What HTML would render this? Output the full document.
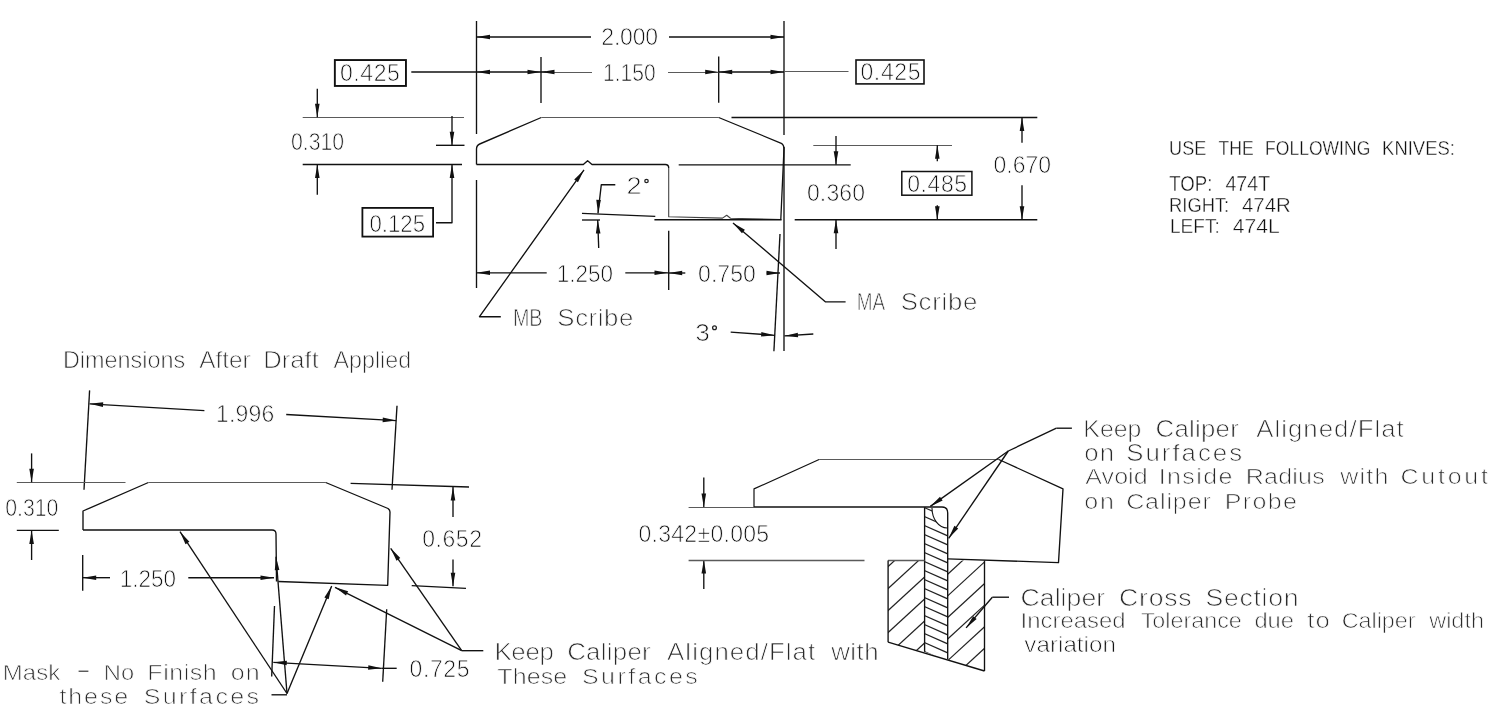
<!DOCTYPE html>
<html><head><meta charset="utf-8"><style>
html,body{margin:0;padding:0;background:#fff;}
svg{display:block;will-change:transform;}
</style></head><body>
<svg width="1500" height="714" viewBox="0 0 1500 714">
<rect width="1500" height="714" fill="#fff"/>
<defs><clipPath id="cl"><path d="M888.1,560.5 L924.6,560.5 L924.6,653 L888.1,642.2Z"/></clipPath>
<clipPath id="cm"><path d="M924.6,507 L932,507 A15.2,20 0 0 0 947.2,528 L947.7,528 L947.7,659 L924.6,652Z"/></clipPath>
<clipPath id="cr"><path d="M947.7,560.5 L984.5,560.5 L984.5,671 L947.7,659.5Z"/></clipPath></defs>
<g clip-path="url(#cl)" stroke="#222" stroke-width="1.2"><line x1="880" y1="508.03" x2="930" y2="462.03" /><line x1="880" y1="530.03" x2="930" y2="484.03" /><line x1="880" y1="552.03" x2="930" y2="506.03" /><line x1="880" y1="574.03" x2="930" y2="528.03" /><line x1="880" y1="596.03" x2="930" y2="550.03" /><line x1="880" y1="618.03" x2="930" y2="572.03" /><line x1="880" y1="640.03" x2="930" y2="594.03" /><line x1="880" y1="662.03" x2="930" y2="616.03" /><line x1="880" y1="684.03" x2="930" y2="638.03" /><line x1="880" y1="706.03" x2="930" y2="660.03" /><line x1="880" y1="728.03" x2="930" y2="682.03" /></g>
<g clip-path="url(#cr)" stroke="#222" stroke-width="1.2"><line x1="940" y1="494.92" x2="990" y2="448.92" /><line x1="940" y1="516.52" x2="990" y2="470.52" /><line x1="940" y1="538.12" x2="990" y2="492.12" /><line x1="940" y1="559.72" x2="990" y2="513.72" /><line x1="940" y1="581.32" x2="990" y2="535.32" /><line x1="940" y1="602.92" x2="990" y2="556.92" /><line x1="940" y1="624.52" x2="990" y2="578.52" /><line x1="940" y1="646.12" x2="990" y2="600.12" /><line x1="940" y1="667.72" x2="990" y2="621.72" /><line x1="940" y1="689.32" x2="990" y2="643.32" /><line x1="940" y1="710.92" x2="990" y2="664.92" /><line x1="940" y1="732.52" x2="990" y2="686.52" /></g>
<g clip-path="url(#cm)" stroke="#222" stroke-width="1.2"><line x1="920" y1="478.68" x2="950" y2="491.88" /><line x1="920" y1="487.68" x2="950" y2="500.88" /><line x1="920" y1="496.68" x2="950" y2="509.88" /><line x1="920" y1="505.68" x2="950" y2="518.88" /><line x1="920" y1="514.68" x2="950" y2="527.88" /><line x1="920" y1="523.68" x2="950" y2="536.88" /><line x1="920" y1="532.68" x2="950" y2="545.88" /><line x1="920" y1="541.68" x2="950" y2="554.88" /><line x1="920" y1="550.68" x2="950" y2="563.88" /><line x1="920" y1="559.68" x2="950" y2="572.88" /><line x1="920" y1="568.68" x2="950" y2="581.88" /><line x1="920" y1="577.68" x2="950" y2="590.88" /><line x1="920" y1="586.68" x2="950" y2="599.88" /><line x1="920" y1="595.68" x2="950" y2="608.88" /><line x1="920" y1="604.68" x2="950" y2="617.88" /><line x1="920" y1="613.68" x2="950" y2="626.88" /><line x1="920" y1="622.68" x2="950" y2="635.88" /><line x1="920" y1="631.68" x2="950" y2="644.88" /><line x1="920" y1="640.68" x2="950" y2="653.88" /><line x1="920" y1="649.68" x2="950" y2="662.88" /><line x1="920" y1="658.68" x2="950" y2="671.88" /><line x1="920" y1="667.68" x2="950" y2="680.88" /><line x1="920" y1="676.68" x2="950" y2="689.88" /><line x1="920" y1="685.68" x2="950" y2="698.88" /></g>
<line x1="476.5" y1="21" x2="476.5" y2="134" stroke="#111" stroke-width="1.35"/>
<line x1="476.5" y1="180" x2="476.5" y2="288" stroke="#111" stroke-width="1.35"/>
<line x1="784" y1="21" x2="784" y2="135" stroke="#111" stroke-width="1.35"/>
<line x1="784" y1="147" x2="784" y2="351" stroke="#111" stroke-width="1.35"/>
<line x1="476.5" y1="37" x2="591" y2="37" stroke="#111" stroke-width="1.35"/>
<line x1="669" y1="37" x2="784" y2="37" stroke="#111" stroke-width="1.35"/>
<polygon points="476.50,37.00 490.00,34.70 490.00,39.30" fill="#111"/>
<polygon points="784.00,37.00 770.50,39.30 770.50,34.70" fill="#111"/>
<text x="601.36" y="44.5" textLength="56.73" lengthAdjust="spacing" font-family="Liberation Sans, sans-serif" font-size="23.00" fill="#111" stroke="#fff" stroke-width="0.75">2.000</text>
<line x1="541" y1="57" x2="541" y2="103" stroke="#111" stroke-width="1.35"/>
<line x1="718.7" y1="56.5" x2="718.7" y2="102.7" stroke="#111" stroke-width="1.35"/>
<line x1="411.3" y1="72" x2="546" y2="72" stroke="#111" stroke-width="1.35"/>
<line x1="546" y1="72.5" x2="592" y2="72.5" stroke="#5a5a5a" stroke-width="1.1"/>
<line x1="668" y1="72.5" x2="718.7" y2="72.5" stroke="#5a5a5a" stroke-width="1.1"/>
<line x1="718.7" y1="72" x2="784" y2="72" stroke="#111" stroke-width="1.35"/>
<line x1="784" y1="71.5" x2="848.5" y2="71.5" stroke="#5a5a5a" stroke-width="1.1"/>
<polygon points="476.50,72.00 490.00,69.70 490.00,74.30" fill="#111"/>
<polygon points="541.00,72.00 527.50,74.30 527.50,69.70" fill="#111"/>
<polygon points="541.00,72.00 554.50,69.70 554.50,74.30" fill="#111"/>
<polygon points="718.70,72.00 705.20,74.30 705.20,69.70" fill="#111"/>
<polygon points="718.70,72.00 732.20,69.70 732.20,74.30" fill="#111"/>
<polygon points="784.00,72.00 770.50,74.30 770.50,69.70" fill="#111"/>
<text x="603.01" y="80.5" textLength="52.70" lengthAdjust="spacingAndGlyphs" font-family="Liberation Sans, sans-serif" font-size="23.00" fill="#111" stroke="#fff" stroke-width="0.75">1.150</text>
<rect x="334.85" y="60.05" width="71.09999999999997" height="25.900000000000006" fill="none" stroke="#111" stroke-width="1.9"/>
<text x="339.91" y="80.7" textLength="59.94" lengthAdjust="spacing" font-family="Liberation Sans, sans-serif" font-size="23.00" fill="#111" stroke="#fff" stroke-width="0.75">0.425</text>
<rect x="856" y="60" width="68" height="23.900000000000006" fill="none" stroke="#111" stroke-width="1.6"/>
<text x="860.41" y="80.0" textLength="60.14" lengthAdjust="spacing" font-family="Liberation Sans, sans-serif" font-size="23.00" fill="#111" stroke="#fff" stroke-width="0.75">0.425</text>
<line x1="302.7" y1="117.5" x2="464" y2="117.5" stroke="#5a5a5a" stroke-width="1.1"/>
<line x1="436" y1="145.3" x2="464.5" y2="145.3" stroke="#111" stroke-width="1.35"/>
<line x1="302.7" y1="164.5" x2="462" y2="164.5" stroke="#111" stroke-width="1.35"/>
<line x1="317.3" y1="88.8" x2="317.3" y2="117.3" stroke="#111" stroke-width="1.35"/>
<polygon points="317.30,117.30 315.00,103.80 319.60,103.80" fill="#111"/>
<line x1="317.3" y1="194.7" x2="317.3" y2="164.5" stroke="#111" stroke-width="1.35"/>
<polygon points="317.30,164.50 319.60,178.00 315.00,178.00" fill="#111"/>
<line x1="452" y1="116" x2="452" y2="145.3" stroke="#111" stroke-width="1.35"/>
<polygon points="452.00,145.30 449.70,131.80 454.30,131.80" fill="#111"/>
<polygon points="452.00,164.50 454.30,178.00 449.70,178.00" fill="#111"/>
<polyline points="452,164.5 452,222.7 436,222.7" fill="none" stroke="#111" stroke-width="1.35" stroke-linejoin="round"/>
<text x="290.98" y="149.8" textLength="53.24" lengthAdjust="spacingAndGlyphs" font-family="Liberation Sans, sans-serif" font-size="23.00" fill="#111" stroke="#fff" stroke-width="0.75">0.310</text>
<rect x="362.4" y="207.9" width="70.70000000000005" height="28.69999999999999" fill="none" stroke="#111" stroke-width="1.8"/>
<text x="369.44" y="231.5" textLength="55.58" lengthAdjust="spacingAndGlyphs" font-family="Liberation Sans, sans-serif" font-size="23.00" fill="#111" stroke="#fff" stroke-width="0.75">0.125</text>
<path d="M476.5,164.5 L476.5,149 Q476.5,145.3 479.7,144 L541.3,117.5" fill="none" stroke="#111" stroke-width="1.35" stroke-linejoin="round"/>
<line x1="541.3" y1="117.5" x2="718.7" y2="117.5" stroke="#5a5a5a" stroke-width="1.1"/>
<path d="M718.7,117.5 L781.3,143.3 Q784,145 784,148.5 L780.8,219.5" fill="none" stroke="#111" stroke-width="1.3" stroke-linejoin="round"/>
<path d="M476.5,164.5 L583.3,164.5 L587.6,160.7 L592,164.5 L665.3,164.5 Q668.7,164.5 668.7,168" fill="none" stroke="#111" stroke-width="1.35" stroke-linejoin="round"/>
<path d="M668.7,168 L668.7,216.8 L722.5,218.1 L726.7,215.2 L730.5,218.3 L780.8,219.5" fill="none" stroke="#444" stroke-width="1.1" stroke-linejoin="round"/>
<line x1="678.7" y1="164.8" x2="850.7" y2="164.8" stroke="#111" stroke-width="1.35"/>
<line x1="731.5" y1="117.5" x2="1037.3" y2="117.5" stroke="#111" stroke-width="1.35"/>
<line x1="813.3" y1="145.5" x2="952" y2="145.5" stroke="#5a5a5a" stroke-width="1.1"/>
<line x1="654.4" y1="219.7" x2="781.6" y2="219.7" stroke="#111" stroke-width="1.35"/>
<line x1="794.7" y1="219.7" x2="1037.3" y2="219.7" stroke="#111" stroke-width="1.35"/>
<line x1="836" y1="136" x2="836" y2="164.8" stroke="#111" stroke-width="1.35"/>
<polygon points="836.00,164.80 833.70,151.30 838.30,151.30" fill="#111"/>
<line x1="836" y1="249" x2="836" y2="219.7" stroke="#111" stroke-width="1.35"/>
<polygon points="836.00,219.70 838.30,233.20 833.70,233.20" fill="#111"/>
<line x1="937.3" y1="161.3" x2="937.3" y2="145.3" stroke="#111" stroke-width="1.35"/>
<polygon points="937.30,145.30 939.60,158.80 935.00,158.80" fill="#111"/>
<line x1="937.3" y1="205.3" x2="937.3" y2="219.7" stroke="#111" stroke-width="1.35"/>
<polygon points="937.30,219.70 935.00,206.20 939.60,206.20" fill="#111"/>
<line x1="1022" y1="142.7" x2="1022" y2="117.6" stroke="#111" stroke-width="1.35"/>
<polygon points="1022.00,117.60 1024.30,131.10 1019.70,131.10" fill="#111"/>
<line x1="1022" y1="185.3" x2="1022" y2="219.7" stroke="#111" stroke-width="1.35"/>
<polygon points="1022.00,219.70 1019.70,206.20 1024.30,206.20" fill="#111"/>
<text x="993.61" y="172.5" textLength="57.37" lengthAdjust="spacing" font-family="Liberation Sans, sans-serif" font-size="23.00" fill="#111" stroke="#fff" stroke-width="0.75">0.670</text>
<text x="806.91" y="201.0" textLength="58.17" lengthAdjust="spacing" font-family="Liberation Sans, sans-serif" font-size="23.00" fill="#111" stroke="#fff" stroke-width="0.75">0.360</text>
<rect x="901.8" y="171.5" width="70.10000000000002" height="23.69999999999999" fill="none" stroke="#111" stroke-width="1.5"/>
<text x="907.21" y="191.5" textLength="59.94" lengthAdjust="spacing" font-family="Liberation Sans, sans-serif" font-size="23.00" fill="#111" stroke="#fff" stroke-width="0.75">0.485</text>
<line x1="582" y1="213.3" x2="655.3" y2="216.4" stroke="#111" stroke-width="1.35"/>
<line x1="582" y1="220" x2="600" y2="220" stroke="#111" stroke-width="1.35"/>
<polyline points="615.3,184.7 601.3,184.7 598,213.3" fill="none" stroke="#111" stroke-width="1.35" stroke-linejoin="round"/>
<polygon points="598.00,213.30 596.28,199.71 600.88,199.91" fill="#111"/>
<line x1="598.7" y1="248" x2="597.7" y2="220" stroke="#111" stroke-width="1.35"/>
<polygon points="597.70,220.00 600.48,233.41 595.88,233.57" fill="#111"/>
<text x="0" y="0" transform="translate(626.45,193.8) scale(1.181042919054942,1)" font-family="Liberation Sans, sans-serif" font-size="23.00" fill="#111" stroke="#fff" stroke-width="0.75">2</text>
<ellipse cx="646.5" cy="181" rx="1.7" ry="1.7" fill="none" stroke="#222" stroke-width="1.3"/>
<polygon points="476.50,272.80 490.00,270.50 490.00,275.10" fill="#111"/>
<line x1="476.5" y1="272.8" x2="546.7" y2="272.8" stroke="#111" stroke-width="1.35"/>
<text x="556.80" y="281.5" textLength="56.27" lengthAdjust="spacingAndGlyphs" font-family="Liberation Sans, sans-serif" font-size="23.00" fill="#111" stroke="#fff" stroke-width="0.75">1.250</text>
<line x1="625.3" y1="272.8" x2="668" y2="272.8" stroke="#111" stroke-width="1.35"/>
<polygon points="668.00,272.80 654.50,275.10 654.50,270.50" fill="#111"/>
<line x1="668.7" y1="230.7" x2="668.7" y2="290" stroke="#111" stroke-width="1.35"/>
<line x1="685.3" y1="273" x2="668.7" y2="273" stroke="#111" stroke-width="1.35"/>
<polygon points="668.70,273.00 682.20,270.70 682.20,275.30" fill="#111"/>
<text x="698.11" y="281.8" textLength="57.67" lengthAdjust="spacing" font-family="Liberation Sans, sans-serif" font-size="23.00" fill="#111" stroke="#fff" stroke-width="0.75">0.750</text>
<line x1="766.7" y1="273" x2="780" y2="273" stroke="#111" stroke-width="1.35"/>
<polygon points="780.00,273.00 766.50,275.30 766.50,270.70" fill="#111"/>
<line x1="780" y1="234" x2="773.9" y2="351.3" stroke="#111" stroke-width="1.35"/>
<line x1="730.7" y1="332.1" x2="774.7" y2="335.3" stroke="#111" stroke-width="1.35"/>
<polygon points="774.70,335.30 761.07,336.61 761.40,332.03" fill="#111"/>
<line x1="813.3" y1="334" x2="784.5" y2="335.9" stroke="#111" stroke-width="1.35"/>
<polygon points="784.50,335.90 797.82,332.72 798.12,337.31" fill="#111"/>
<text x="0" y="0" transform="translate(695.31,340.6) scale(1.1439931939282697,1)" font-family="Liberation Sans, sans-serif" font-size="23.00" fill="#111" stroke="#fff" stroke-width="0.75">3</text>
<ellipse cx="714.5" cy="327.8" rx="1.9" ry="1.9" fill="none" stroke="#222" stroke-width="1.3"/>
<polygon points="584.00,169.90 577.94,182.18 574.21,179.48" fill="#111"/>
<polyline points="584,169.9 479.5,316.7 500.8,316.7" fill="none" stroke="#111" stroke-width="1.35" stroke-linejoin="round"/>
<text x="512.89" y="326.0" textLength="29.64" lengthAdjust="spacingAndGlyphs" font-family="Liberation Sans, sans-serif" font-size="23.07" fill="#2a2a2a" stroke="#fff" stroke-width="0.75">MB</text>
<text x="0" y="0" transform="translate(557.34,326.0) scale(1.12,1)" textLength="67.85" lengthAdjust="spacing" font-family="Liberation Sans, sans-serif" font-size="23.07" fill="#2a2a2a" stroke="#fff" stroke-width="0.75">Scribe</text>
<polygon points="733.00,223.00 744.92,229.74 742.01,233.31" fill="#111"/>
<polyline points="733,223 825.6,301.9 845.6,301.9" fill="none" stroke="#111" stroke-width="1.35" stroke-linejoin="round"/>
<text x="856.66" y="310.1" textLength="28.36" lengthAdjust="spacingAndGlyphs" font-family="Liberation Sans, sans-serif" font-size="23.07" fill="#2a2a2a" stroke="#fff" stroke-width="0.75">MA</text>
<text x="0" y="0" transform="translate(900.64,310.1) scale(1.12,1)" textLength="68.48" lengthAdjust="spacing" font-family="Liberation Sans, sans-serif" font-size="23.07" fill="#2a2a2a" stroke="#fff" stroke-width="0.75">Scribe</text>
<text x="1169.11" y="155.3" textLength="37.17" lengthAdjust="spacingAndGlyphs" font-family="Liberation Sans, sans-serif" font-size="20.64" fill="#111" stroke="#fff" stroke-width="0.4">USE</text>
<text x="1218.61" y="155.3" textLength="35.15" lengthAdjust="spacingAndGlyphs" font-family="Liberation Sans, sans-serif" font-size="20.64" fill="#111" stroke="#fff" stroke-width="0.4">THE</text>
<text x="1265.06" y="155.3" textLength="105.25" lengthAdjust="spacingAndGlyphs" font-family="Liberation Sans, sans-serif" font-size="20.64" fill="#111" stroke="#fff" stroke-width="0.4">FOLLOWING</text>
<text x="1382.08" y="155.3" textLength="72.90" lengthAdjust="spacingAndGlyphs" font-family="Liberation Sans, sans-serif" font-size="20.64" fill="#111" stroke="#fff" stroke-width="0.4">KNIVES:</text>
<text x="1169.29" y="190.8" textLength="43.10" lengthAdjust="spacingAndGlyphs" font-family="Liberation Sans, sans-serif" font-size="22.09" fill="#111" stroke="#fff" stroke-width="0.4">TOP:</text>
<text x="1225.45" y="190.8" textLength="44.80" lengthAdjust="spacingAndGlyphs" font-family="Liberation Sans, sans-serif" font-size="22.09" fill="#111" stroke="#fff" stroke-width="0.4">474T</text>
<text x="1169.04" y="212.1" textLength="60.18" lengthAdjust="spacingAndGlyphs" font-family="Liberation Sans, sans-serif" font-size="20.93" fill="#111" stroke="#fff" stroke-width="0.4">RIGHT:</text>
<text x="1242.03" y="212.1" textLength="48.71" lengthAdjust="spacingAndGlyphs" font-family="Liberation Sans, sans-serif" font-size="20.93" fill="#111" stroke="#fff" stroke-width="0.4">474R</text>
<text x="1170.00" y="233.1" textLength="49.77" lengthAdjust="spacingAndGlyphs" font-family="Liberation Sans, sans-serif" font-size="20.93" fill="#111" stroke="#fff" stroke-width="0.4">LEFT:</text>
<text x="1232.82" y="233.1" textLength="46.99" lengthAdjust="spacingAndGlyphs" font-family="Liberation Sans, sans-serif" font-size="20.93" fill="#111" stroke="#fff" stroke-width="0.4">474L</text>
<text x="62.89" y="367.7" textLength="122.44" lengthAdjust="spacingAndGlyphs" font-family="Liberation Sans, sans-serif" font-size="23.80" fill="#2a2a2a" stroke="#fff" stroke-width="0.75">Dimensions</text>
<text x="199.16" y="367.7" textLength="51.43" lengthAdjust="spacingAndGlyphs" font-family="Liberation Sans, sans-serif" font-size="23.80" fill="#2a2a2a" stroke="#fff" stroke-width="0.75">After</text>
<text x="263.21" y="367.7" textLength="55.57" lengthAdjust="spacingAndGlyphs" font-family="Liberation Sans, sans-serif" font-size="23.80" fill="#2a2a2a" stroke="#fff" stroke-width="0.75">Draft</text>
<text x="333.57" y="367.7" textLength="77.52" lengthAdjust="spacingAndGlyphs" font-family="Liberation Sans, sans-serif" font-size="23.80" fill="#2a2a2a" stroke="#fff" stroke-width="0.75">Applied</text>
<line x1="89.6" y1="390.4" x2="84" y2="489.8" stroke="#111" stroke-width="1.35"/>
<line x1="397" y1="405.8" x2="392" y2="489.8" stroke="#111" stroke-width="1.35"/>
<line x1="89.6" y1="403.8" x2="204.4" y2="410.6" stroke="#111" stroke-width="1.35"/>
<polygon points="89.60,403.80 103.21,402.30 102.94,406.89" fill="#111"/>
<text x="215.96" y="421.7" textLength="58.24" lengthAdjust="spacing" font-family="Liberation Sans, sans-serif" font-size="23.00" fill="#111" stroke="#fff" stroke-width="0.75">1.996</text>
<line x1="286.2" y1="414.5" x2="396.2" y2="420.6" stroke="#111" stroke-width="1.35"/>
<polygon points="396.20,420.60 382.60,422.18 382.84,417.58" fill="#111"/>
<line x1="16.8" y1="482.5" x2="125.5" y2="482.5" stroke="#5a5a5a" stroke-width="1.1"/>
<line x1="31.6" y1="453.4" x2="31.6" y2="482.3" stroke="#111" stroke-width="1.35"/>
<polygon points="31.60,482.30 29.30,468.80 33.90,468.80" fill="#111"/>
<text x="5.18" y="515.5" textLength="53.24" lengthAdjust="spacingAndGlyphs" font-family="Liberation Sans, sans-serif" font-size="23.00" fill="#111" stroke="#fff" stroke-width="0.75">0.310</text>
<line x1="16.8" y1="530.4" x2="58.8" y2="530.4" stroke="#111" stroke-width="1.35"/>
<line x1="31.6" y1="560" x2="31.6" y2="530.4" stroke="#111" stroke-width="1.35"/>
<polygon points="31.60,530.40 33.90,543.90 29.30,543.90" fill="#111"/>
<line x1="350.6" y1="483.4" x2="469" y2="487" stroke="#111" stroke-width="1.35"/>
<path d="M83,530 L83,511 L148.4,482.5" fill="none" stroke="#111" stroke-width="1.35" stroke-linejoin="round"/>
<line x1="148.4" y1="482.5" x2="325.7" y2="482.5" stroke="#5a5a5a" stroke-width="1.1"/>
<path d="M325.7,482.5 L388,508.5 Q390,510 390,512 L387.7,585.3 L278.3,581.5" fill="none" stroke="#111" stroke-width="1.35" stroke-linejoin="round"/>
<path d="M83,530 L272,530 Q276,530 276,534 L276.5,581.5" fill="none" stroke="#111" stroke-width="1.35" stroke-linejoin="round"/>
<line x1="82.7" y1="555" x2="82.7" y2="590.7" stroke="#111" stroke-width="1.35"/>
<line x1="110" y1="577.7" x2="82.7" y2="577.7" stroke="#111" stroke-width="1.35"/>
<polygon points="82.70,577.70 96.20,575.40 96.20,580.00" fill="#111"/>
<text x="119.80" y="586.5" textLength="56.27" lengthAdjust="spacingAndGlyphs" font-family="Liberation Sans, sans-serif" font-size="23.00" fill="#111" stroke="#fff" stroke-width="0.75">1.250</text>
<line x1="188.3" y1="577.7" x2="274" y2="577.7" stroke="#111" stroke-width="1.35"/>
<polygon points="274.00,577.70 260.50,580.00 260.50,575.40" fill="#111"/>
<line x1="274.5" y1="606" x2="271.7" y2="676.5" stroke="#111" stroke-width="1.35"/>
<line x1="386.7" y1="609.3" x2="382.7" y2="681.7" stroke="#111" stroke-width="1.35"/>
<line x1="273.3" y1="662.3" x2="381.7" y2="668.3" stroke="#111" stroke-width="1.35"/>
<polygon points="273.30,662.30 286.90,660.73 286.66,665.32" fill="#111"/>
<polygon points="381.70,668.30 368.09,669.85 368.35,665.26" fill="#111"/>
<line x1="381.7" y1="668.3" x2="396.7" y2="668.3" stroke="#111" stroke-width="1.35"/>
<text x="409.61" y="677.2" textLength="59.84" lengthAdjust="spacing" font-family="Liberation Sans, sans-serif" font-size="23.00" fill="#111" stroke="#fff" stroke-width="0.75">0.725</text>
<text x="422.21" y="547.0" textLength="59.73" lengthAdjust="spacing" font-family="Liberation Sans, sans-serif" font-size="23.00" fill="#111" stroke="#fff" stroke-width="0.75">0.652</text>
<line x1="453" y1="517" x2="453" y2="487" stroke="#111" stroke-width="1.35"/>
<polygon points="453.00,487.00 455.30,500.50 450.70,500.50" fill="#111"/>
<line x1="453" y1="559.6" x2="453" y2="586.3" stroke="#111" stroke-width="1.35"/>
<polygon points="453.00,586.30 450.70,572.80 455.30,572.80" fill="#111"/>
<line x1="411.7" y1="585.6" x2="466" y2="588.3" stroke="#111" stroke-width="1.35"/>
<line x1="287" y1="693.5" x2="180" y2="531.7" stroke="#111" stroke-width="1.35"/>
<polygon points="180.00,531.70 189.37,541.69 185.53,544.23" fill="#111"/>
<line x1="287" y1="693.5" x2="276" y2="556.7" stroke="#111" stroke-width="1.35"/>
<polygon points="276.00,556.70 279.37,569.97 274.79,570.34" fill="#111"/>
<line x1="287" y1="693.5" x2="331.7" y2="586" stroke="#111" stroke-width="1.35"/>
<polygon points="331.70,586.00 328.64,599.35 324.39,597.58" fill="#111"/>
<line x1="271.5" y1="694.8" x2="287" y2="694.8" stroke="#111" stroke-width="1.35"/>
<text x="2.84" y="679.5" textLength="57.31" lengthAdjust="spacingAndGlyphs" font-family="Liberation Sans, sans-serif" font-size="22.35" fill="#2a2a2a" stroke="#fff" stroke-width="0.75">Mask</text>
<text x="103.87" y="679.5" textLength="30.32" lengthAdjust="spacingAndGlyphs" font-family="Liberation Sans, sans-serif" font-size="22.35" fill="#2a2a2a" stroke="#fff" stroke-width="0.75">No</text>
<text x="0" y="0" transform="translate(147.36,679.5) scale(1.12,1)" textLength="62.01" lengthAdjust="spacing" font-family="Liberation Sans, sans-serif" font-size="22.35" fill="#2a2a2a" stroke="#fff" stroke-width="0.75">Finish</text>
<text x="0" y="0" transform="translate(230.76,679.5) scale(1.12,1)" textLength="25.94" lengthAdjust="spacing" font-family="Liberation Sans, sans-serif" font-size="22.35" fill="#2a2a2a" stroke="#fff" stroke-width="0.75">on</text>
<text x="0" y="0" transform="translate(75.74,676.8) scale(2.0848973008130076,1)" font-family="Liberation Sans, sans-serif" font-size="22.35" fill="#111" stroke="#fff" stroke-width="0.75">-</text>
<text x="0" y="0" transform="translate(59.43,703.5) scale(1.12,1)" textLength="61.49" lengthAdjust="spacing" font-family="Liberation Sans, sans-serif" font-size="22.35" fill="#2a2a2a" stroke="#fff" stroke-width="0.75">these</text>
<text x="0" y="0" transform="translate(143.68,703.5) scale(1.12,1)" textLength="103.05" lengthAdjust="spacing" font-family="Liberation Sans, sans-serif" font-size="22.35" fill="#2a2a2a" stroke="#fff" stroke-width="0.75">Surfaces</text>
<line x1="461.7" y1="650.7" x2="335" y2="587.3" stroke="#111" stroke-width="1.35"/>
<polygon points="335.00,587.30 348.10,591.28 346.04,595.40" fill="#111"/>
<line x1="461.7" y1="650.7" x2="390.7" y2="548.3" stroke="#111" stroke-width="1.35"/>
<polygon points="390.70,548.30 400.28,558.08 396.50,560.70" fill="#111"/>
<line x1="461.7" y1="650.7" x2="483.3" y2="650.7" stroke="#111" stroke-width="1.35"/>
<text x="0" y="0" transform="translate(494.39,659.5) scale(1.12,1)" textLength="53.20" lengthAdjust="spacing" font-family="Liberation Sans, sans-serif" font-size="23.07" fill="#2a2a2a" stroke="#fff" stroke-width="0.75">Keep</text>
<text x="0" y="0" transform="translate(567.20,659.5) scale(1.12,1)" textLength="74.48" lengthAdjust="spacing" font-family="Liberation Sans, sans-serif" font-size="23.07" fill="#2a2a2a" stroke="#fff" stroke-width="0.75">Caliper</text>
<text x="0" y="0" transform="translate(667.06,659.5) scale(1.12,1)" textLength="132.25" lengthAdjust="spacing" font-family="Liberation Sans, sans-serif" font-size="23.07" fill="#2a2a2a" stroke="#fff" stroke-width="0.75">Aligned/Flat</text>
<text x="0" y="0" transform="translate(831.15,659.5) scale(1.12,1)" textLength="42.34" lengthAdjust="spacing" font-family="Liberation Sans, sans-serif" font-size="23.07" fill="#2a2a2a" stroke="#fff" stroke-width="0.75">with</text>
<text x="0" y="0" transform="translate(497.25,684.3) scale(1.12,1)" textLength="62.54" lengthAdjust="spacing" font-family="Liberation Sans, sans-serif" font-size="22.35" fill="#2a2a2a" stroke="#fff" stroke-width="0.75">These</text>
<text x="0" y="0" transform="translate(581.98,684.3) scale(1.12,1)" textLength="103.41" lengthAdjust="spacing" font-family="Liberation Sans, sans-serif" font-size="22.35" fill="#2a2a2a" stroke="#fff" stroke-width="0.75">Surfaces</text>
<path d="M754,507 L754,488.9 L819.1,459.5" fill="none" stroke="#111" stroke-width="1.2" stroke-linejoin="round"/>
<line x1="819.1" y1="459.5" x2="998.8" y2="459.5" stroke="#5a5a5a" stroke-width="1.1"/>
<path d="M998.8,459.5 L1063,488.9 L1058.5,562.6 L947.7,558.8" fill="none" stroke="#111" stroke-width="1.35" stroke-linejoin="round"/>
<line x1="688.6" y1="507.5" x2="754" y2="507.5" stroke="#5a5a5a" stroke-width="1.1"/>
<line x1="754" y1="507" x2="942" y2="507" stroke="#111" stroke-width="1.35"/>
<path d="M942,507 Q947.7,507 947.7,513 L947.7,659" fill="none" stroke="#111" stroke-width="1.35" stroke-linejoin="round"/>
<line x1="924.6" y1="507.3" x2="924.6" y2="651.8" stroke="#111" stroke-width="1.35"/>
<line x1="703.8" y1="477.5" x2="703.8" y2="507" stroke="#111" stroke-width="1.35"/>
<polygon points="703.80,507.00 701.50,493.50 706.10,493.50" fill="#111"/>
<line x1="703.8" y1="589" x2="703.8" y2="560" stroke="#111" stroke-width="1.35"/>
<polygon points="703.80,560.00 706.10,573.50 701.50,573.50" fill="#111"/>
<line x1="688.6" y1="560.5" x2="864.5" y2="560.5" stroke="#5a5a5a" stroke-width="1.3"/>
<text x="638.41" y="542.3" textLength="130.74" lengthAdjust="spacing" font-family="Liberation Sans, sans-serif" font-size="23.00" fill="#111" stroke="#fff" stroke-width="0.75">0.342±0.005</text>
<line x1="888.1" y1="560.5" x2="924.6" y2="560.5" stroke="#5a5a5a" stroke-width="1.3"/>
<line x1="888.1" y1="560.5" x2="888.1" y2="642.2" stroke="#111" stroke-width="1.35"/>
<line x1="888.1" y1="642.2" x2="984.5" y2="671" stroke="#111" stroke-width="1.35"/>
<line x1="984.5" y1="560.5" x2="984.5" y2="671" stroke="#111" stroke-width="1.35"/>
<path d="M932,508 A15.2,20 0 0 0 947.2,528" fill="none" stroke="#111" stroke-width="1.1" stroke-linejoin="round"/>
<line x1="1056.4" y1="428.2" x2="1071.9" y2="428.2" stroke="#111" stroke-width="1.35"/>
<line x1="1056.4" y1="428.2" x2="1008.3" y2="451" stroke="#111" stroke-width="1.35"/>
<line x1="1008.3" y1="451" x2="930.3" y2="506.4" stroke="#111" stroke-width="1.35"/>
<polygon points="930.30,506.40 939.97,496.71 942.64,500.46" fill="#111"/>
<line x1="1008.3" y1="451" x2="948.7" y2="538.3" stroke="#111" stroke-width="1.35"/>
<polygon points="948.70,538.30 954.41,525.85 958.21,528.45" fill="#111"/>
<text x="1083.37" y="437.3" textLength="58.06" lengthAdjust="spacingAndGlyphs" font-family="Liberation Sans, sans-serif" font-size="23.07" fill="#2a2a2a" stroke="#fff" stroke-width="0.75">Keep</text>
<text x="0" y="0" transform="translate(1155.50,437.3) scale(1.12,1)" textLength="74.39" lengthAdjust="spacing" font-family="Liberation Sans, sans-serif" font-size="23.07" fill="#2a2a2a" stroke="#fff" stroke-width="0.75">Caliper</text>
<text x="0" y="0" transform="translate(1256.16,437.3) scale(1.12,1)" textLength="131.80" lengthAdjust="spacing" font-family="Liberation Sans, sans-serif" font-size="23.07" fill="#2a2a2a" stroke="#fff" stroke-width="0.75">Aligned/Flat</text>
<text x="0" y="0" transform="translate(1084.33,460.9) scale(1.12,1)" textLength="26.55" lengthAdjust="spacing" font-family="Liberation Sans, sans-serif" font-size="23.07" fill="#2a2a2a" stroke="#fff" stroke-width="0.75">on</text>
<text x="0" y="0" transform="translate(1126.24,460.9) scale(1.12,1)" textLength="103.47" lengthAdjust="spacing" font-family="Liberation Sans, sans-serif" font-size="23.07" fill="#2a2a2a" stroke="#fff" stroke-width="0.75">Surfaces</text>
<text x="0" y="0" transform="translate(1085.36,484.1) scale(1.12,1)" textLength="55.57" lengthAdjust="spacing" font-family="Liberation Sans, sans-serif" font-size="22.35" fill="#2a2a2a" stroke="#fff" stroke-width="0.75">Avoid</text>
<text x="0" y="0" transform="translate(1158.70,484.1) scale(1.12,1)" textLength="65.89" lengthAdjust="spacing" font-family="Liberation Sans, sans-serif" font-size="22.35" fill="#2a2a2a" stroke="#fff" stroke-width="0.75">Inside</text>
<text x="0" y="0" transform="translate(1245.76,484.1) scale(1.12,1)" textLength="70.48" lengthAdjust="spacing" font-family="Liberation Sans, sans-serif" font-size="22.35" fill="#2a2a2a" stroke="#fff" stroke-width="0.75">Radius</text>
<text x="0" y="0" transform="translate(1340.25,484.1) scale(1.12,1)" textLength="43.00" lengthAdjust="spacing" font-family="Liberation Sans, sans-serif" font-size="22.35" fill="#2a2a2a" stroke="#fff" stroke-width="0.75">with</text>
<text x="0" y="0" transform="translate(1400.54,484.1) scale(1.12,1)" textLength="77.97" lengthAdjust="spacing" font-family="Liberation Sans, sans-serif" font-size="22.35" fill="#2a2a2a" stroke="#fff" stroke-width="0.75">Cutout</text>
<text x="0" y="0" transform="translate(1084.36,508.5) scale(1.12,1)" textLength="26.47" lengthAdjust="spacing" font-family="Liberation Sans, sans-serif" font-size="22.35" fill="#2a2a2a" stroke="#fff" stroke-width="0.75">on</text>
<text x="0" y="0" transform="translate(1126.14,508.5) scale(1.12,1)" textLength="75.59" lengthAdjust="spacing" font-family="Liberation Sans, sans-serif" font-size="22.35" fill="#2a2a2a" stroke="#fff" stroke-width="0.75">Caliper</text>
<text x="0" y="0" transform="translate(1224.76,508.5) scale(1.12,1)" textLength="64.41" lengthAdjust="spacing" font-family="Liberation Sans, sans-serif" font-size="22.35" fill="#2a2a2a" stroke="#fff" stroke-width="0.75">Probe</text>
<line x1="992.3" y1="597.2" x2="1009" y2="597.2" stroke="#111" stroke-width="1.35"/>
<line x1="992.3" y1="597.2" x2="966.1" y2="627.9" stroke="#111" stroke-width="1.35"/>
<polygon points="966.10,627.90 973.11,616.14 976.61,619.12" fill="#111"/>
<text x="0" y="0" transform="translate(1020.46,605.5) scale(1.12,1)" textLength="75.69" lengthAdjust="spacing" font-family="Liberation Sans, sans-serif" font-size="23.80" fill="#2a2a2a" stroke="#fff" stroke-width="0.75">Caliper</text>
<text x="0" y="0" transform="translate(1119.06,605.5) scale(1.12,1)" textLength="64.72" lengthAdjust="spacing" font-family="Liberation Sans, sans-serif" font-size="23.80" fill="#2a2a2a" stroke="#fff" stroke-width="0.75">Cross</text>
<text x="0" y="0" transform="translate(1205.60,605.5) scale(1.12,1)" textLength="82.96" lengthAdjust="spacing" font-family="Liberation Sans, sans-serif" font-size="23.80" fill="#2a2a2a" stroke="#fff" stroke-width="0.75">Section</text>
<text x="1020.61" y="627.9" textLength="104.92" lengthAdjust="spacingAndGlyphs" font-family="Liberation Sans, sans-serif" font-size="22.93" fill="#2a2a2a" stroke="#fff" stroke-width="0.75">Increased</text>
<text x="1140.70" y="627.9" textLength="101.10" lengthAdjust="spacingAndGlyphs" font-family="Liberation Sans, sans-serif" font-size="22.93" fill="#2a2a2a" stroke="#fff" stroke-width="0.75">Tolerance</text>
<text x="1254.42" y="627.9" textLength="39.63" lengthAdjust="spacingAndGlyphs" font-family="Liberation Sans, sans-serif" font-size="22.93" fill="#2a2a2a" stroke="#fff" stroke-width="0.75">due</text>
<text x="0" y="0" transform="translate(1307.22,627.9) scale(1.12,1)" textLength="20.22" lengthAdjust="spacing" font-family="Liberation Sans, sans-serif" font-size="22.93" fill="#2a2a2a" stroke="#fff" stroke-width="0.75">to</text>
<text x="1341.63" y="627.9" textLength="73.95" lengthAdjust="spacingAndGlyphs" font-family="Liberation Sans, sans-serif" font-size="22.93" fill="#2a2a2a" stroke="#fff" stroke-width="0.75">Caliper</text>
<text x="1429.25" y="627.9" textLength="54.66" lengthAdjust="spacingAndGlyphs" font-family="Liberation Sans, sans-serif" font-size="22.93" fill="#2a2a2a" stroke="#fff" stroke-width="0.75">width</text>
<text x="1024.33" y="651.5" textLength="91.63" lengthAdjust="spacingAndGlyphs" font-family="Liberation Sans, sans-serif" font-size="22.35" fill="#111" stroke="#fff" stroke-width="0.75">variation</text>
</svg>
</body></html>
